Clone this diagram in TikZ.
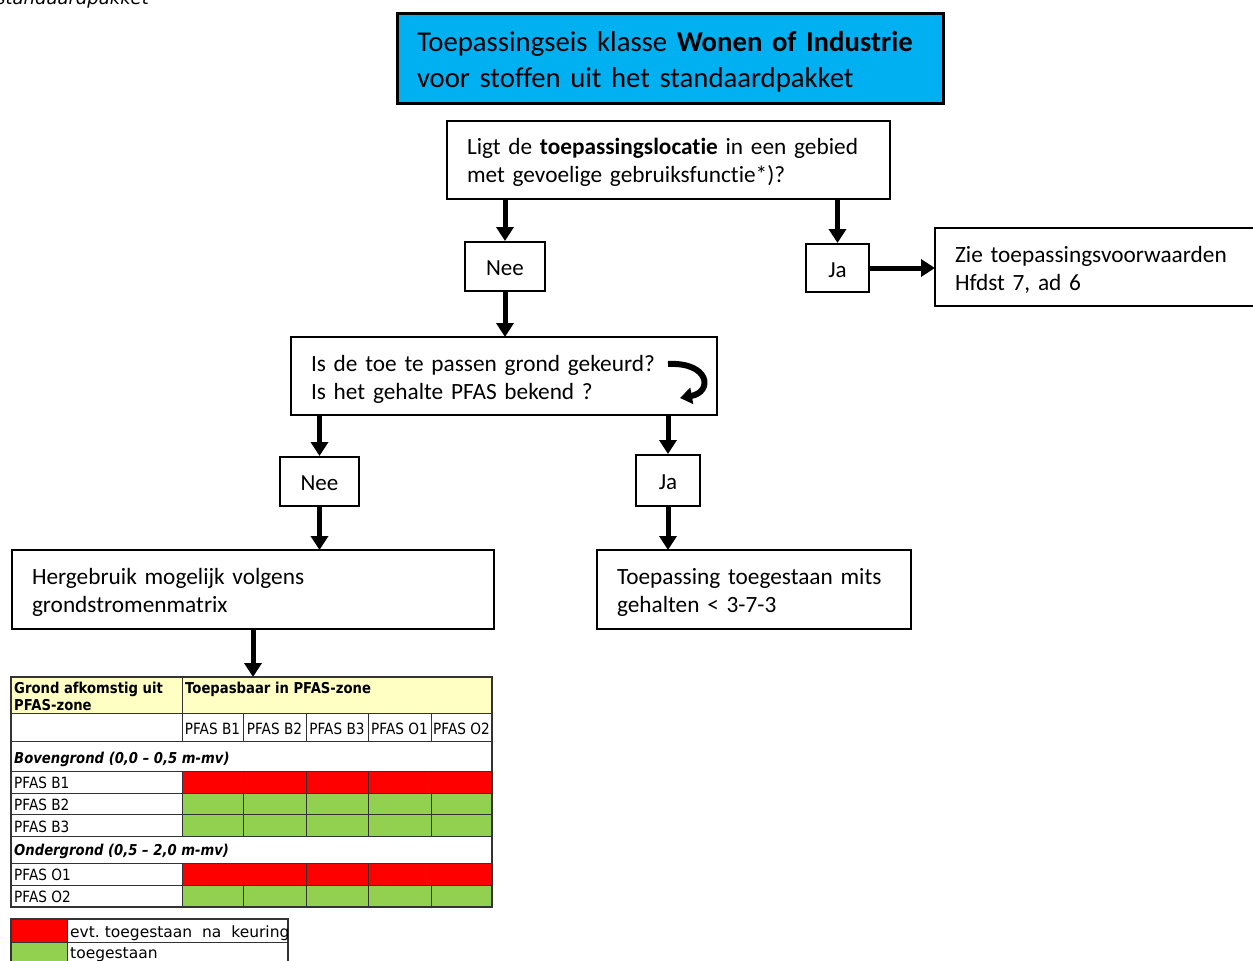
\documentclass[tikz,border=0pt]{standalone}
\usepackage{fontspec}
\setmainfont{Carlito}[WordSpace=0.8,Ligatures=NoCommon]
\newfontfamily\tabfont[FakeStretch=0.88]{DejaVu Sans}
\newfontfamily\legfont{DejaVu Sans}
\usetikzlibrary{arrows.meta}
\definecolor{titleblue}{HTML}{00B0F0}
\definecolor{tred}{HTML}{FF0000}
\definecolor{tgreen}{HTML}{92D050}
\definecolor{tyellow}{HTML}{FFFFC4}
\definecolor{tgray}{HTML}{333333}
\newcommand{\upstrut}[1]{\rule{0pt}{#1}}
\begin{document}
\begin{tikzpicture}[x=1pt,y=-1pt,
 box/.style={draw=black,line width=2.5pt,rectangle,anchor=north west,outer sep=0pt,inner xsep=20pt,inner ysep=0pt,align=left,font=\fontsize{23.3}{28}\selectfont},
 small/.style={draw=black,line width=2pt,rectangle,inner sep=0pt,text height=18pt,text depth=0pt,font=\fontsize{23}{28}\selectfont},
 arr/.style={line width=5pt,-{Triangle[width=17pt,length=14pt]}},
 tline/.style={draw=tgray,line width=1pt},
 tt/.style={font=\tabfont\fontsize{15.5}{17}\selectfont,inner sep=0pt},
 ttb/.style={font=\tabfont\bfseries\fontsize{15}{17}\selectfont,inner sep=0pt},
 tti/.style={font=\tabfont\bfseries\itshape\fontsize{15}{17}\selectfont,inner sep=0pt},
 leg/.style={font=\legfont\fontsize{15.5}{18}\selectfont,inner sep=0pt},
]
\useasboundingbox (0,0) rectangle (1253,961);

% fragment of caption at top left
\node[anchor=base west,inner sep=0pt,font=\legfont\itshape\fontsize{18}{20}\selectfont] (cap) at (-4,5) {standaardpakket};

% flowchart boxes
\node[box,fill=titleblue,line width=3pt,minimum width=546pt,minimum height=90pt,text width=506pt,font=\fontsize{28.7}{36}\selectfont] (title) at (397,13)
 {\upstrut{27pt}Toepassingseis klasse \textbf{Wonen of Industrie}\\voor stoffen uit het standaardpakket};
\node[box,minimum width=443pt,minimum height=78pt,text width=403pt] (ligt) at (447,121)
 {\upstrut{22pt}Ligt de \textbf{toepassingslocatie} in een gebied\\met gevoelige gebruiksfunctie*)?};
\node[box,minimum width=340pt,minimum height=78pt,text width=300pt] (zie) at (935,228)
 {\upstrut{22pt}Zie toepassingsvoorwaarden\\Hfdst 7, ad 6};
\node[box,minimum width=426pt,minimum height=78pt,text width=386pt] (keur) at (291,337)
 {\upstrut{22pt}Is de toe te passen grond gekeurd?\\Is het gehalte PFAS bekend ?};
\node[box,minimum width=482pt,minimum height=79pt,text width=442pt] (herg) at (12,550)
 {\upstrut{22pt}Hergebruik mogelijk volgens\\grondstromenmatrix};
\node[box,minimum width=314pt,minimum height=79pt,text width=274pt] (toeg) at (597,550)
 {\upstrut{22pt}Toepassing toegestaan mits\\gehalten < 3-7-3};

\node[small,minimum width=80pt,minimum height=49pt] (nee1) at (505,266.5) {Nee};
\node[small,minimum width=63pt,minimum height=48pt] (ja1) at (837.5,268) {Ja};
\node[small,minimum width=79pt,minimum height=49pt] (nee2) at (319.5,481.5) {Nee};
\node[small,minimum width=64pt,minimum height=51pt] (ja2) at (668,480.5) {Ja};

% connectors
\draw[arr] (nee1 |- ligt.south) -- (nee1.north);
\draw[arr] (ja1 |- ligt.south) -- (ja1.north);
\draw[arr] (ja1.east) -- (ja1.east -| zie.west);
\draw[arr] (nee1.south) -- (nee1 |- keur.north);
\draw[arr] (nee2 |- keur.south) -- (nee2.north);
\draw[arr] (ja2 |- keur.south) -- (ja2.north);
\draw[arr] (nee2.south) -- (nee2 |- herg.north);
\draw[arr] (ja2.south) -- (ja2 |- toeg.north);
\coordinate (tabtop) at (253,677);
\draw[arr] (herg.south) -- (herg.south |- tabtop);

% curved arrow inside question box
\draw[line width=6pt,-{Triangle[width=16pt,length=12pt]}] (668,364) .. controls (710,362) and (713,392) .. (680,398);

% table fills
\fill[tyellow] (11,677) rectangle (492,713);
\fill[tred] (182,771) rectangle (492,793);
\fill[tgreen] (182,793) rectangle (492,836);
\fill[tred] (182,863) rectangle (492,885);
\fill[tgreen] (182,885) rectangle (492,907);
% table lines
\foreach \yy in {713,741,771,793,814,836,863,885}
  \draw[tline] (11,\yy) -- (492,\yy);
\draw[tline] (182,677) -- (182,741);
\foreach \xx in {182,243,306,368,431} {
  \draw[tline] (\xx,771) -- (\xx,836);
  \draw[tline] (\xx,863) -- (\xx,907);
}
\foreach \xx in {243,306,368,431}
  \draw[tline] (\xx,713) -- (\xx,741);
\draw[tline,line width=1.3pt] (11,677) rectangle (492,907);

% table texts
\node[ttb,anchor=base west] (h1a) at (14,693) {Grond afkomstig uit};
\node[ttb,anchor=base west] (h1b) at (14,710) {PFAS-zone};
\node[ttb,anchor=base west] (h2) at (185,693) {Toepasbaar in PFAS-zone};
\node[tt,anchor=base] (c1) at (212.5,734) {PFAS B1};
\node[tt,anchor=base] (c2) at (274.5,734) {PFAS B2};
\node[tt,anchor=base] (c3) at (337,734) {PFAS B3};
\node[tt,anchor=base] (c4) at (399.5,734) {PFAS O1};
\node[tt,anchor=base] (c5) at (461.5,734) {PFAS O2};
\node[tti,anchor=base west] (bov) at (14,763) {Bovengrond (0,0 – 0,5 m-mv)};
\node[tt,anchor=base west] (r1) at (14,788) {PFAS B1};
\node[tt,anchor=base west] (r2) at (14,810) {PFAS B2};
\node[tt,anchor=base west] (r3) at (14,832) {PFAS B3};
\node[tti,anchor=base west] (ond) at (14,855) {Ondergrond (0,5 – 2,0 m-mv)};
\node[tt,anchor=base west] (r4) at (14,880) {PFAS O1};
\node[tt,anchor=base west] (r5) at (14,902) {PFAS O2};

% legend
\fill[tred] (11,919) rectangle (67,942);
\fill[tgreen] (11,942) rectangle (67,975);
\draw[tline] (11,942) -- (288,942);
\draw[tline] (67,919) -- (67,975);
\draw[tline,line width=1.3pt] (11,919) rectangle (288,975);
\node[leg,anchor=base west] (l1) at (70,937) {evt.\ toegestaan\ \ na\ \ keuring};
\node[leg,anchor=base west] (l2) at (70,958) {toegestaan};
\end{tikzpicture}
\end{document}
